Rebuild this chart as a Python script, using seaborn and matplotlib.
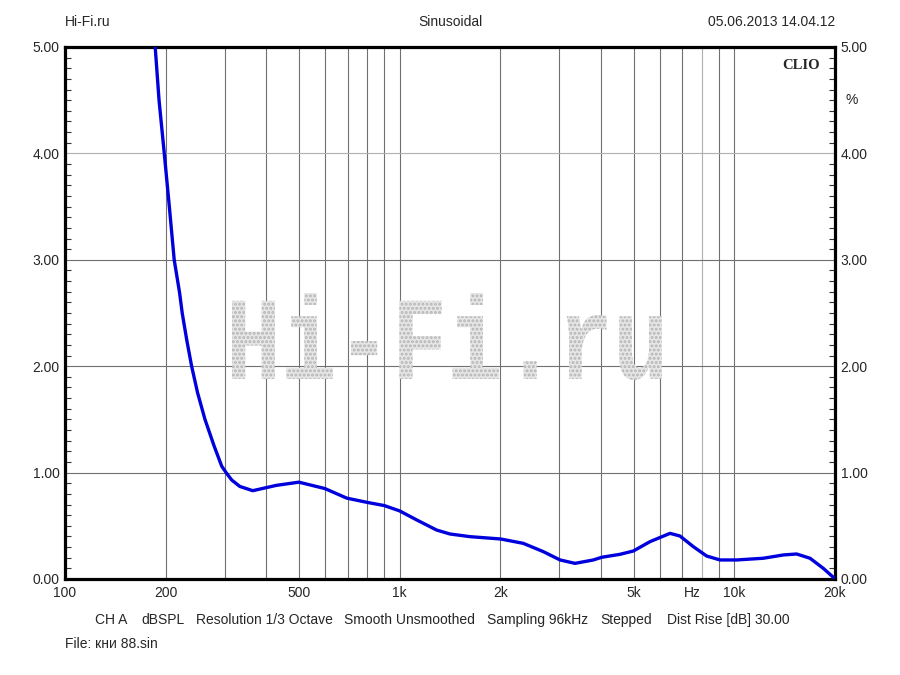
import numpy as np
import pandas as pd
import seaborn as sns
import matplotlib
matplotlib.use("Agg")
import matplotlib.pyplot as plt
from matplotlib.ticker import NullFormatter
from matplotlib.textpath import TextPath
from matplotlib.patches import PathPatch
from matplotlib.font_manager import FontProperties
from matplotlib.transforms import Affine2D

# THD curve (Hz, %)
freq_hz = [186, 191, 198, 205, 212, 220, 224, 231, 239, 249, 262, 279, 294,
           303, 315, 333, 364, 428, 500, 598, 695, 800, 900, 1000, 1125, 1290,
           1414, 1623, 2004, 2342, 2688, 3016, 3342, 3792, 4015, 4555, 4993,
           5600, 6427, 6883, 7545, 8270, 9065, 10165, 12212, 14018, 15362,
           16840, 18457, 19770, 20000]
thd_pct = [5.0, 4.5, 4.0, 3.5, 3.0, 2.69, 2.5, 2.25, 2.0, 1.75, 1.5, 1.25,
           1.06, 1.0, 0.93, 0.87, 0.83, 0.88, 0.91, 0.85, 0.76, 0.72, 0.69,
           0.64, 0.555, 0.46, 0.423, 0.398, 0.376, 0.335, 0.257, 0.179, 0.147,
           0.179, 0.204, 0.232, 0.263, 0.351, 0.429, 0.404, 0.304, 0.216,
           0.179, 0.179, 0.195, 0.226, 0.235, 0.195, 0.10, 0.016, 0.0]

x_major = [100, 200, 500, 1000, 2000, 5000, 10000, 20000]
x_major_labels = ["100", "200", "500", "1k", "2k", "5k", "10k", "20k"]
x_minor = [300, 400, 600, 700, 800, 900, 3000, 4000, 6000, 7000, 8000, 9000]
y_major = [0, 1, 2, 3, 4, 5]
y_major_labels = ["0.00", "1.00", "2.00", "3.00", "4.00", "5.00"]

header = ["Hi-Fi.ru", "Sinusoidal", "05.06.2013 14.04.12"]
footer = ["CH A", "dBSPL", "Resolution 1/3 Octave", "Smooth Unsmoothed",
          "Sampling 96kHz", "Stepped", "Dist Rise [dB] 30.00"]
footer_x = [95, 141, 196, 344, 487, 600, 667]
file_label = "File: кни 88.sin"

sns.set_style("white")
plt.rcParams["font.family"] = ["Liberation Sans", "DejaVu Sans"]
FS = 10

W, H = 900, 675
fig = plt.figure(figsize=(9, 6.75), dpi=100)
ax = fig.add_axes([65 / W, 96 / H, 770 / W, 532 / H])

# dotted watermark
tp = TextPath((0, 0), "Hi-Fi.ru",
              prop=FontProperties(family="Liberation Mono", weight="bold"))
ext = tp.get_extents()
bx0, bx1, by0, by1 = 232 / W, 662 / W, 1 - 380 / H, 1 - 293 / H
tr = (Affine2D().translate(-ext.x0, -ext.y0)
      .scale((bx1 - bx0) / ext.width, (by1 - by0) / ext.height)
      .translate(bx0, by0))
plt.rcParams["hatch.linewidth"] = 1.4
wm = PathPatch(tr.transform_path(tp), transform=fig.transFigure,
               facecolor="#e6e6e6", edgecolor="#b4b4b4", hatch="....", lw=0,
               zorder=0.6)
ax.add_patch(wm)

df = pd.DataFrame({"freq": freq_hz, "thd": thd_pct})
sns.lineplot(data=df, x="freq", y="thd", ax=ax, color="#0000dd",
             linewidth=2.4, zorder=3)

ax.set_xscale("log")
ax.set_xlim(100, 20000)
ax.set_ylim(0, 5)
ax.set_xticks(x_major)
ax.set_xticklabels(x_major_labels)
ax.set_xticks(x_minor, minor=True)
ax.xaxis.set_minor_formatter(NullFormatter())
ax.set_yticks(y_major)
ax.set_yticklabels(y_major_labels)
ax.set_yticks(np.arange(0, 5.01, 0.1), minor=True)
ax.set_xlabel("")
ax.set_ylabel("")

ax.grid(True, which="both", axis="x", color="#707070", lw=0.8)
ax.grid(True, which="major", axis="y", color="#707070", lw=0.8)
ax.set_axisbelow(True)
# a couple of grid lines are drawn lighter in the original
ax.xaxis.get_minor_ticks()[x_minor.index(8000)].gridline.set_color("#b0b0b0")
ax.yaxis.get_major_ticks()[4].gridline.set_color("#b0b0b0")

ax.tick_params(axis="x", which="both", length=0, pad=5, labelsize=FS)
ax.tick_params(axis="y", which="major", length=0, pad=4, labelsize=FS,
               labelleft=True, labelright=True)
ax.tick_params(axis="y", which="minor", direction="in", length=4, width=0.8,
               left=True, right=True, color="#333333")

for s in ax.spines.values():
    s.set_visible(True)
    s.set_color("black")
    s.set_linewidth(2.3)

ax.text(7500, -0.13, "Hz", ha="center", va="center", fontsize=FS)
ax.text(0.98, 0.978, "CLIO", transform=ax.transAxes, ha="right", va="top",
        fontsize=10.5, fontweight="bold", family="Liberation Serif")
fig.text(845 / W, 1 - 100 / H, "%", ha="left", va="center", fontsize=FS)

fig.text(65 / W, 1 - 22 / H, header[0], ha="left", va="center", fontsize=FS)
fig.text(450 / W, 1 - 22 / H, header[1], ha="center", va="center", fontsize=FS)
fig.text(835 / W, 1 - 22 / H, header[2], ha="right", va="center", fontsize=FS)

for x, t in zip(footer_x, footer):
    fig.text(x / W, 1 - 620 / H, t, ha="left", va="center", fontsize=FS)
fig.text(65 / W, 1 - 644 / H, file_label, ha="left", va="center", fontsize=FS)

fig.savefig("out.png", dpi=100)
